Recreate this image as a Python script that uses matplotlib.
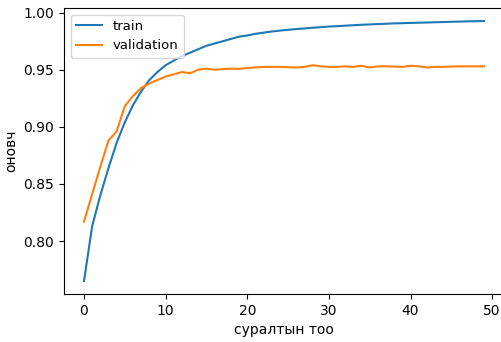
import matplotlib
matplotlib.use("Agg")
import matplotlib.pyplot as plt

# accuracy per epoch
train_acc = [
    0.765, 0.813, 0.840, 0.864, 0.886, 0.904, 0.919, 0.931, 0.941, 0.948,
    0.954, 0.958, 0.962, 0.965, 0.968, 0.971, 0.973, 0.975, 0.977, 0.979,
    0.980, 0.9815, 0.9825, 0.9835, 0.9843, 0.985, 0.9856, 0.9862, 0.9868, 0.9873,
    0.9878, 0.9882, 0.9886, 0.989, 0.9894, 0.9897, 0.990, 0.9903, 0.9906, 0.9908,
    0.991, 0.9912, 0.9914, 0.9916, 0.9918, 0.992, 0.9922, 0.9924, 0.9925, 0.9927,
]
val_acc = [
    0.817, 0.841, 0.865, 0.888, 0.896, 0.918, 0.927, 0.934, 0.938, 0.941,
    0.944, 0.946, 0.948, 0.947, 0.950, 0.951, 0.950, 0.9505, 0.951, 0.9508,
    0.9515, 0.952, 0.9525, 0.9525, 0.9525, 0.9522, 0.952, 0.9525, 0.954, 0.953,
    0.9525, 0.9525, 0.953, 0.9525, 0.9535, 0.952, 0.953, 0.953, 0.9528, 0.9525,
    0.9535, 0.953, 0.952, 0.9525, 0.9525, 0.9528, 0.953, 0.953, 0.953, 0.953,
]
epochs = list(range(len(train_acc)))

fig = plt.figure(figsize=(5.02, 3.42), dpi=100)
ax = fig.add_axes([64 / 502, 1 - 294 / 342, 440 / 502, 286 / 342])

ax.plot(epochs, train_acc, label="train")
ax.plot(epochs, val_acc, label="validation")

ax.set_xlabel("суралтын тоо")
ax.set_ylabel("оновч")
ax.legend(loc="upper left", fontsize=9.5)

fig.savefig("out.png", dpi=100)
